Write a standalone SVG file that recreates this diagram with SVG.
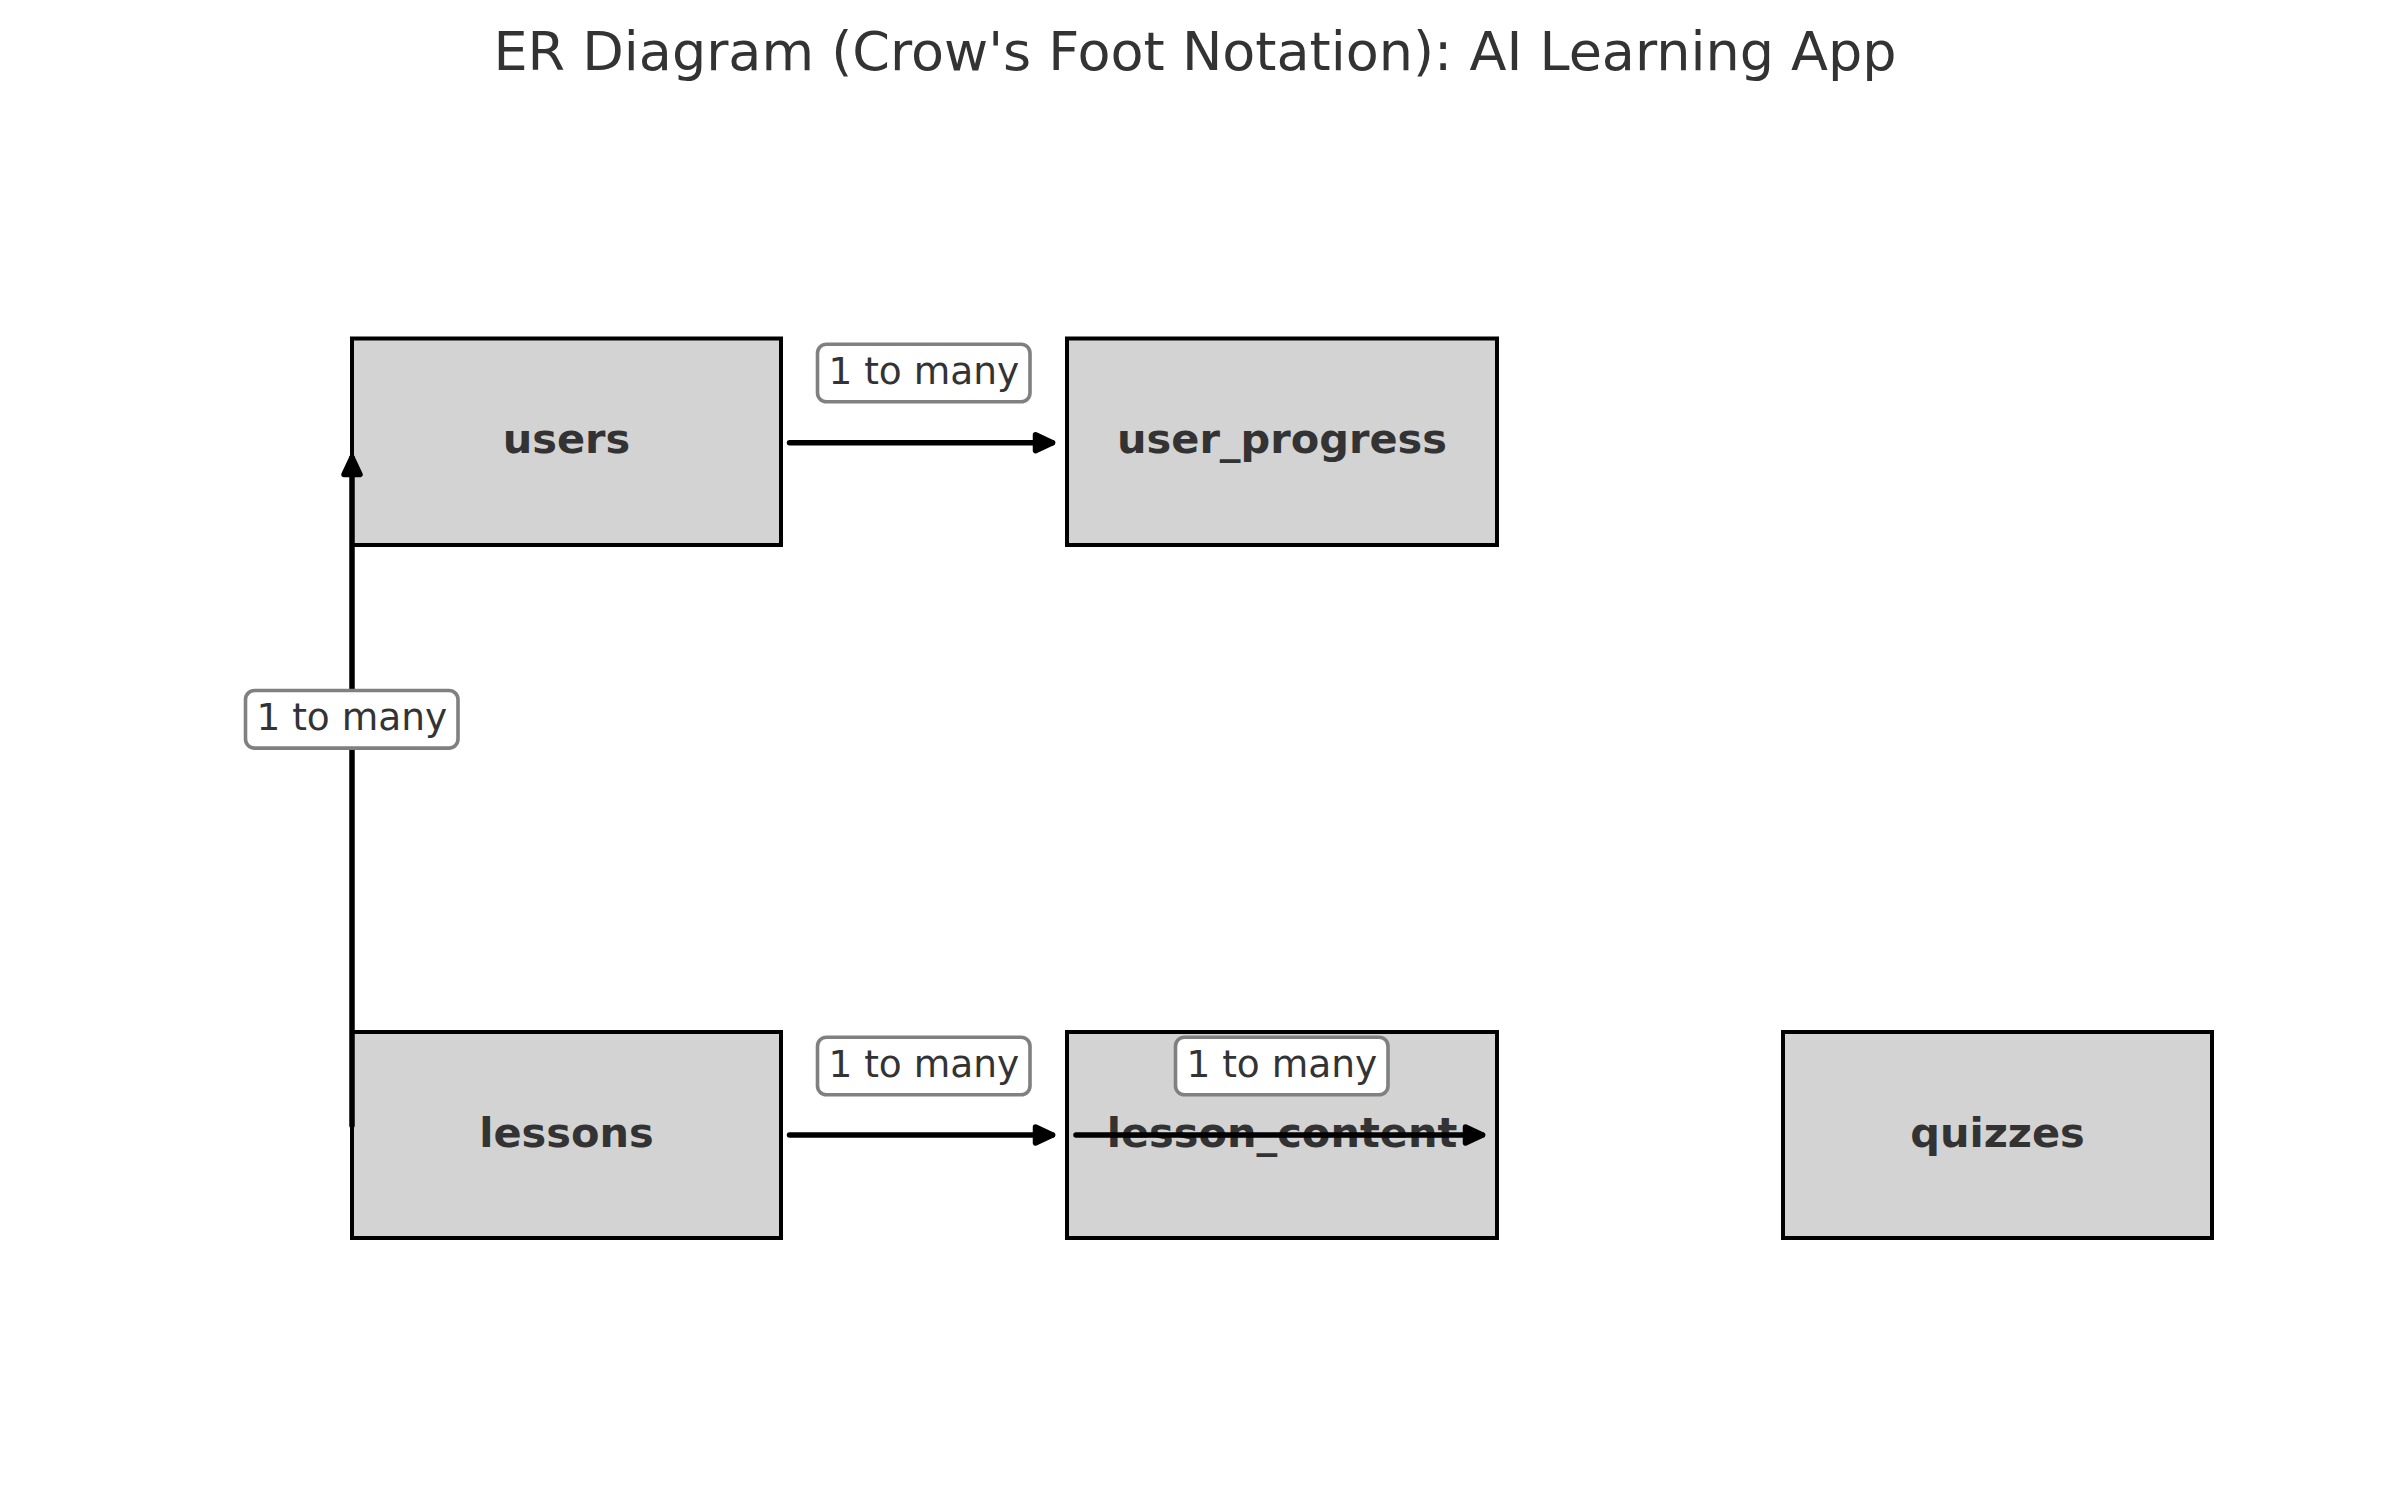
<svg xmlns="http://www.w3.org/2000/svg" width="2385" height="1512" viewBox="0 0 2385 1512">
<style>
.node rect{fill:#d3d3d3;stroke:#000;stroke-width:4}
.node text{font-family:"DejaVu Sans",sans-serif;font-weight:bold;font-size:41.5px;fill:#333;text-anchor:middle}
.edge{stroke:#000;stroke-width:5.5;stroke-linecap:round;fill:none;marker-end:url(#ah)}
.lbl rect{fill:#fff;stroke:#808080;stroke-width:3.6}
.lbl text{font-family:"DejaVu Sans",sans-serif;font-size:37.5px;fill:#333;text-anchor:middle}
.title{font-family:"DejaVu Sans",sans-serif;font-size:54px;fill:#333;text-anchor:middle}
</style>
<defs>
<marker id="ah" markerUnits="userSpaceOnUse" markerWidth="60" markerHeight="60" viewBox="-30 -30 60 60" refX="0" refY="0" orient="auto" overflow="visible">
<path d="M-17,-8 L0,0 L-17,8 Z" fill="#000" stroke="#000" stroke-width="5.5" stroke-linejoin="round"/>
</marker>
</defs>
<rect width="2385" height="1512" fill="#fff"/>
<text class="title" x="1195" y="70">ER Diagram (Crow's Foot Notation): AI Learning App</text>
<g id="users" class="node"><rect x="352" y="338.5" width="429" height="206.5"/><text x="566.5" y="453.3">users</text></g>
<g id="user_progress" class="node"><rect x="1067" y="338.5" width="430" height="206.5"/><text x="1282" y="453.3">user_progress</text></g>
<g id="lessons" class="node"><rect x="352" y="1032" width="429" height="206"/><text x="566.5" y="1146.7">lessons</text></g>
<g id="lesson_content" class="node"><rect x="1067" y="1032" width="430" height="206"/><text x="1282" y="1146.7">lesson_content</text></g>
<g id="quizzes" class="node"><rect x="1783" y="1032" width="429" height="206"/><text x="1997.5" y="1146.7">quizzes</text></g>
<g id="connectors">
<line class="edge" x1="789.5" y1="442.7" x2="1052.5" y2="442.7"/>
<line class="edge" x1="789.5" y1="1135" x2="1052.5" y2="1135"/>
<line class="edge" x1="1076" y1="1135" x2="1482.5" y2="1135"/>
<line class="edge" x1="352" y1="1125.5" x2="352" y2="457.5"/>
<g class="lbl"><rect x="817.5" y="344.2" width="212.5" height="57.6" rx="9"/><text x="923.8" y="383.5">1 to many</text></g>
<g class="lbl"><rect x="817.5" y="1037.2" width="212.5" height="57.6" rx="9"/><text x="923.8" y="1076.5">1 to many</text></g>
<g class="lbl"><rect x="1175.5" y="1037.2" width="212.5" height="57.6" rx="9"/><text x="1281.8" y="1076.5">1 to many</text></g>
<g class="lbl"><rect x="245.5" y="690.5" width="212.5" height="57.6" rx="9"/><text x="351.8" y="729.8">1 to many</text></g>
</g>
</svg>
